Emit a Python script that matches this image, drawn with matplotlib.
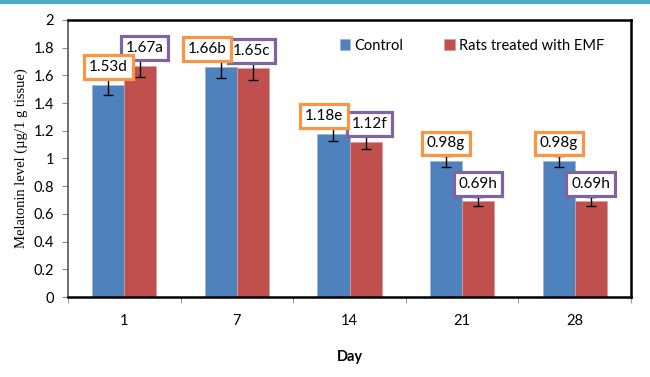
import matplotlib.pyplot as plt
import numpy as np

days = ['1', '7', '14', '21', '28']
control = [1.53, 1.66, 1.18, 0.98, 0.98]
emf = [1.67, 1.65, 1.12, 0.69, 0.69]
control_err = [0.07, 0.08, 0.055, 0.04, 0.04]
emf_err = [0.08, 0.08, 0.05, 0.035, 0.035]
control_labels = ['1.53d', '1.66b', '1.18e', '0.98g', '0.98g']
emf_labels = ['1.67a', '1.65c', '1.12f', '0.69h', '0.69h']

# small sideways nudges (points) so neighbouring boxes don't collide
control_dx = [0, -10, -7, 0, 0]
emf_dx = [3, -1, 3, 0, 0]

blue = '#4F81BD'
red = '#C0504D'
orange = '#F79646'
purple = '#8064A2'

fig = plt.figure(figsize=(6.5, 3.77), dpi=100)
ax = fig.add_axes([0.1046, 0.2122, 0.8662, 0.7348])

x = np.arange(len(days))
w = 0.285
ax.bar(x - w / 2, control, w, color=blue, edgecolor='#9DB5DA', linewidth=0.5,
       label='Control', zorder=2)
ax.bar(x + w / 2, emf, w, color=red, edgecolor='#DC9C9A', linewidth=0.5,
       label='Rats treated with EMF', zorder=2)
ax.errorbar(x - w / 2, control, yerr=control_err, fmt='none', ecolor='black',
            elinewidth=1, capsize=3.5, capthick=1, zorder=3)
ax.errorbar(x + w / 2, emf, yerr=emf_err, fmt='none', ecolor='black',
            elinewidth=1, capsize=3.5, capthick=1, zorder=3)

for i in range(len(days)):
    ax.annotate(emf_labels[i], (x[i] + w / 2, emf[i]),
                xytext=(emf_dx[i], 12.8), textcoords='offset points',
                ha='center', va='center', fontsize=11, family='Lato', zorder=5,
                bbox=dict(boxstyle='square,pad=0.32', fc='white', ec=purple, lw=2.3))
    ax.annotate(control_labels[i], (x[i] - w / 2, control[i]),
                xytext=(control_dx[i], 12.8), textcoords='offset points',
                ha='center', va='center', fontsize=11, family='Lato', zorder=6,
                bbox=dict(boxstyle='square,pad=0.32', fc='white', ec=orange, lw=2.3))

ax.set_xlim(-0.5, 4.5)
ax.set_ylim(0, 2)
ax.set_yticks(np.arange(0, 2.01, 0.2))
ax.set_yticklabels(['0', '0.2', '0.4', '0.6', '0.8', '1', '1.2', '1.4', '1.6', '1.8', '2'],
                   family='Lato', fontsize=10.5)
ax.set_xticks(x)
ax.set_xticklabels(days, family='Lato', fontsize=10.5)
ax.set_xticks(np.arange(-0.5, 4.6, 1), minor=True)
ax.tick_params(axis='x', which='major', length=0, pad=12)
ax.tick_params(axis='x', which='minor', length=4, color='#888888', direction='out')
ax.tick_params(axis='y', length=4, color='#888888', direction='out', pad=6)

for s in ax.spines.values():
    s.set_color('black')
    s.set_linewidth(1.8)
ax.spines['left'].set_color('#555555')
ax.spines['left'].set_linewidth(1.2)

ax.set_ylabel('Melatonin level (µg/1 g tissue)', family='Liberation Serif', fontsize=10.5)
ax.set_xlabel('Day', family='Lato', fontsize=10.5, fontweight='bold', labelpad=16)

leg = ax.legend(loc='upper left', bbox_to_anchor=(0.46, 0.98), ncol=2, frameon=False,
                prop={'family': 'Lato', 'size': 10.5}, handlelength=0.7, handleheight=0.7,
                handletextpad=0.3, columnspacing=2.8)

# cyan strip along the top edge of the slide
fig.add_artist(plt.Line2D([0, 1], [0.996, 0.996], color='#4BACC6', lw=3,
                          transform=fig.transFigure))

fig.savefig('out.png', dpi=100)
